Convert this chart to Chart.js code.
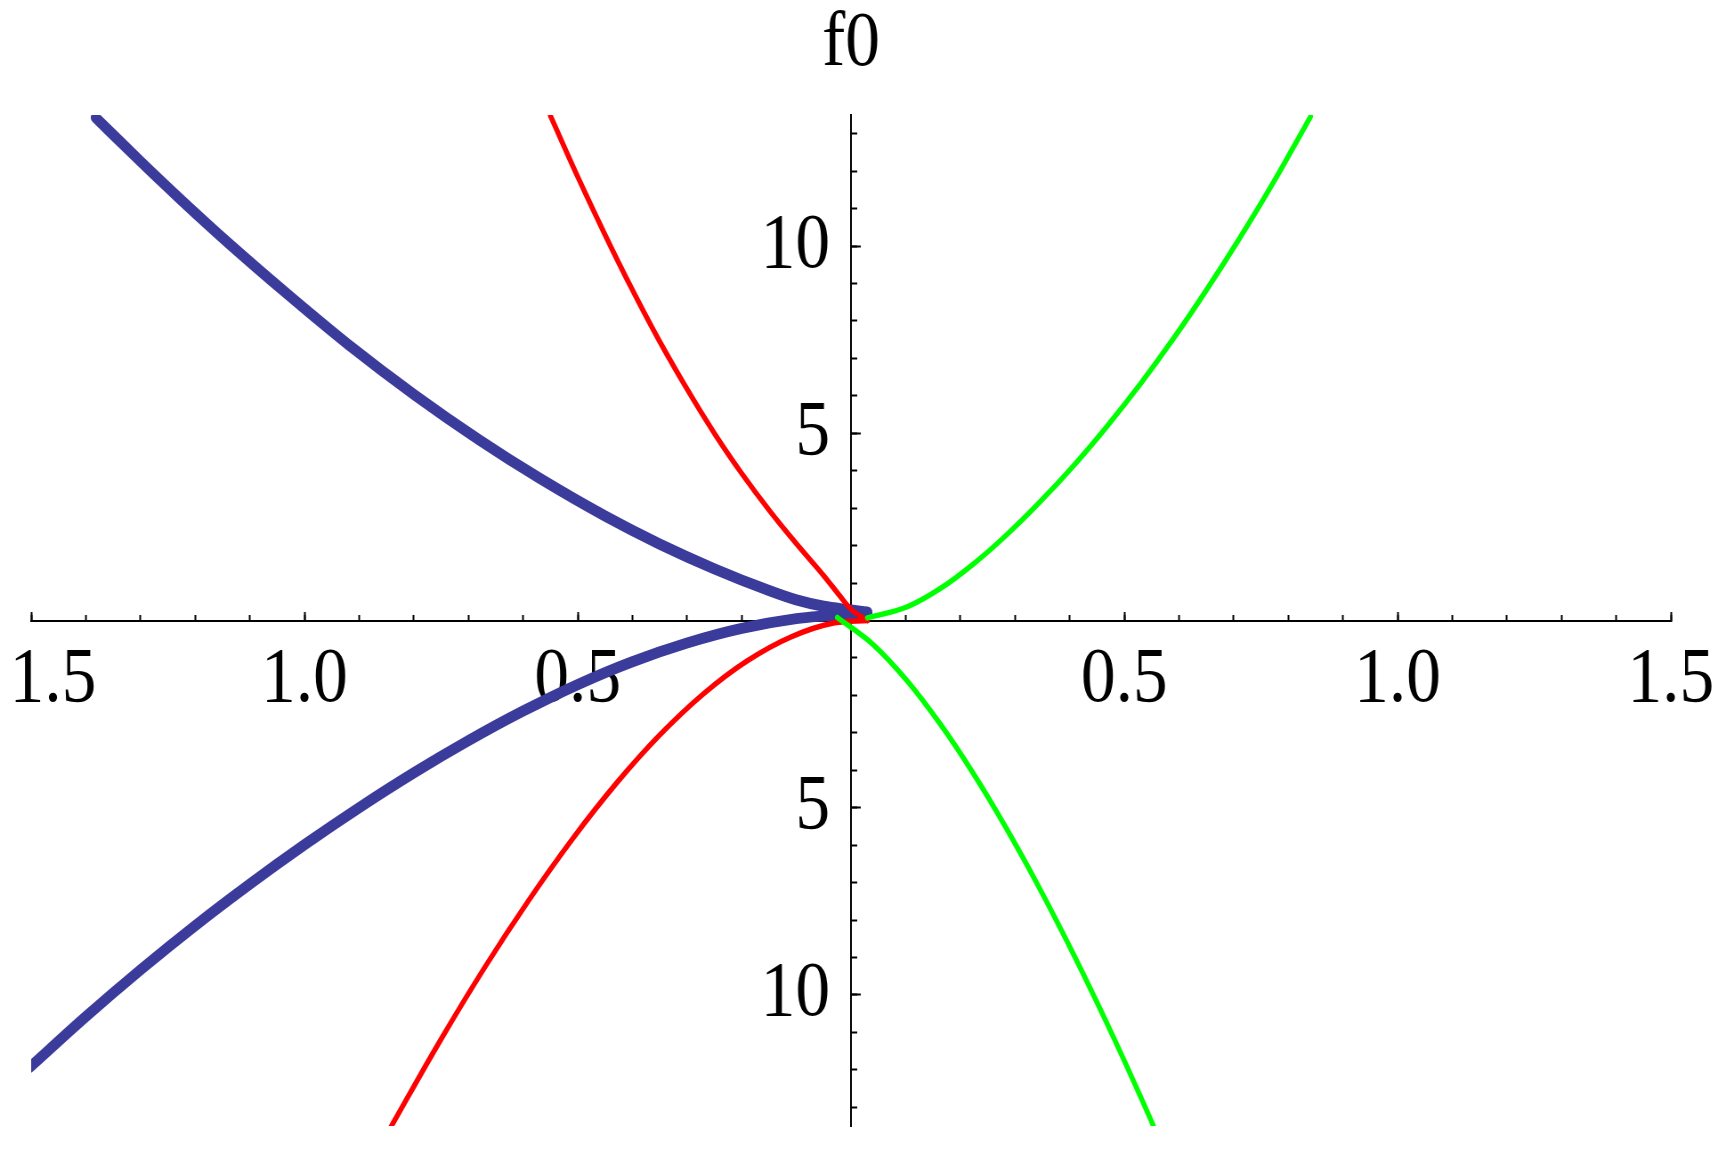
<!DOCTYPE html>
<html>
<head>
<meta charset="utf-8">
<script src="https://cdn.jsdelivr.net/npm/chart.js@4.4.1/dist/chart.umd.min.js"></script>
<style>
  html, body { margin: 0; padding: 0; background: #fff; overflow: hidden; }
</style>
</head>
<body>
<!-- drawn 1939 wide and squeezed to 1726, the reference glyphs are narrow -->
<canvas id="plot" width="1939" height="1164" style="display:block;width:1726px;height:1164px"></canvas>
<script>
// each branch runs away from the cusp near the origin
const blueUpX = [0.03, 0.0, -0.05, -0.10, -0.15, -0.25, -0.35, -0.45, -0.57, -0.68, -0.80, -0.92, -1.03, -1.14, -1.23, -1.30, -1.382];
const blueUpY = [0.22, 0.28, 0.38, 0.55, 0.80, 1.38, 2.04, 2.79, 3.80, 4.82, 6.04, 7.37, 8.70, 10.09, 11.29, 12.26, 13.43];
const blueLoX = [0.03, 0.0, -0.05, -0.10, -0.20, -0.30, -0.40, -0.50, -0.60, -0.70, -0.80, -0.90, -1.00, -1.10, -1.20, -1.30, -1.40, -1.503];
const blueLoY = [0.22, 0.17, 0.12, 0.05, -0.21, -0.60, -1.10, -1.71, -2.42, -3.21, -4.07, -5.00, -5.99, -7.04, -8.15, -9.33, -10.58, -11.94];

const redUpX = [0.03, 0.0, -0.02, -0.05, -0.10, -0.15, -0.20, -0.25, -0.30, -0.35, -0.40, -0.45, -0.50, -0.55];
const redUpY = [0.0, 0.3, 0.65, 1.2, 2.05, 2.95, 3.93, 5.0, 6.18, 7.45, 8.83, 10.3, 11.85, 13.48];
const redLoX = [0.03, -0.03, -0.11, -0.19, -0.27, -0.35, -0.43, -0.51, -0.59, -0.67, -0.75, -0.842];
const redLoY = [0.0, -0.06, -0.44, -1.08, -1.96, -3.06, -4.36, -5.84, -7.48, -9.26, -11.18, -13.53];

const greenUpX = [0.03, 0.102, 0.163, 0.224, 0.285, 0.346, 0.407, 0.468, 0.529, 0.590, 0.651, 0.712, 0.774, 0.841];
const greenUpY = [0.07, 0.36, 0.85, 1.51, 2.29, 3.17, 4.13, 5.18, 6.31, 7.53, 8.84, 10.23, 11.73, 13.46];
const greenLoX = [-0.025, 0.041, 0.102, 0.163, 0.224, 0.285, 0.346, 0.407, 0.468, 0.529, 0.554];
const greenLoY = [0.08, -0.65, -1.60, -2.76, -4.09, -5.57, -7.18, -8.91, -10.75, -12.69, -13.52];

const xMajorTicks = [-1.5, -1, -0.5, 0, 0.5, 1, 1.5];
// the leftmost label is nudged inward so it stays on the page, as in the original
const xLabelTicks = [-1.46, -1, -0.5, 0.5, 1, 1.5];
const xTickLabels = ['1.5', '1.0', '0.5', '0.5', '1.0', '1.5'];
const yMajorTicks = [-10, -5, 0, 5, 10];
const yLabelTicks = [-10, -5, 5, 10];
const yTickLabels = ['10', '5', '5', '10'];
const xMinorTicks = Array.from({ length: 31 }, (_, i) => (i - 15) / 10);
const yMinorTicks = Array.from({ length: 27 }, (_, i) => i - 13);

const serif = "'Liberation Serif', 'Times New Roman', serif";
const yLabelAt = -0.0384;   // y labels sit a little left of the axis

const BLUE = '#3b3b9b', RED = '#ff0000', GREEN = '#00ff00';

const points = (xs, ys) => xs.map((x, i) => ({ x: x, y: ys[i] }));
const fixTicks = vals => scale => { scale.ticks = vals.map(v => ({ value: v })); };
const noPad = scale => {
    scale.paddingLeft = 0; scale.paddingRight = 0;
    scale.paddingTop = 0; scale.paddingBottom = 0;
};

function branch(xs, ys, color, width, order) {
    return {
        data: points(xs, ys), borderColor: color, borderWidth: width, order: order,
        showLine: true, pointRadius: 0, fill: false,
        cubicInterpolationMode: 'monotone', borderCapStyle: 'round', borderJoinStyle: 'round'
    };
}

function tickAxis(axis, at, vals, len, withBorder) {
    const lim = axis === 'x' ? 1.5 : 13.5;
    return {
        type: 'linear', axis: axis, position: at, min: -lim, max: lim, bounds: 'data',
        afterBuildTicks: fixTicks(vals), afterFit: noPad,
        ticks: { display: false, autoSkip: false },
        grid: { drawOnChartArea: false, drawTicks: true, tickLength: len, tickWidth: 2, tickColor: '#000' },
        border: { display: withBorder, color: '#000', width: 2 }
    };
}

function labelAxis(axis, at, vals, texts, pad) {
    const lim = axis === 'x' ? 1.5 : 13.5;
    return {
        type: 'linear', axis: axis, position: at, min: -lim, max: lim, bounds: 'data',
        afterBuildTicks: fixTicks(vals), afterFit: noPad,
        ticks: {
            display: true, autoSkip: false, maxRotation: 0, minRotation: 0, padding: pad,
            color: '#000', font: { family: serif, size: 78 },
            callback: (v, i) => texts[i]
        },
        grid: { display: false, drawTicks: false },
        border: { display: false }
    };
}

new Chart(document.getElementById('plot'), {
    type: 'scatter',
    data: {
        datasets: [
            branch(blueUpX, blueUpY, BLUE, 11, 3),
            branch(blueLoX, blueLoY, BLUE, 11, 3),
            branch(redUpX, redUpY, RED, 5.5, 2),
            branch(redLoX, redLoY, RED, 5.5, 2),
            branch(greenUpX, greenUpY, GREEN, 5.5, 1),
            branch(greenLoX, greenLoY, GREEN, 5.5, 1)
        ]
    },
    options: {
        responsive: false,
        devicePixelRatio: 1,
        animation: false,
        layout: { padding: { left: 35, right: 62, top: 0, bottom: 38 } },
        scales: {
            x: tickAxis('x', { y: 0 }, xMajorTicks, -10, true),
            y: tickAxis('y', { x: 0 }, yMajorTicks, -12, true),
            xMinor: tickAxis('x', { y: 0 }, xMinorTicks, -6, false),
            yMinor: tickAxis('y', { x: 0 }, yMinorTicks, -7, false),
            xLabels: labelAxis('x', { y: 0 }, xLabelTicks, xTickLabels, 13),
            yLabels: labelAxis('y', { x: yLabelAt }, yLabelTicks, yTickLabels, 0)
        },
        plugins: {
            legend: { display: false },
            tooltip: { enabled: false },
            title: {
                display: true, text: 'f0', color: '#000', fullSize: false,
                font: { family: serif, size: 78, weight: 'normal', lineHeight: 1 },
                padding: { top: 6, bottom: 31 }
            }
        }
    }
});
</script>
</body>
</html>
